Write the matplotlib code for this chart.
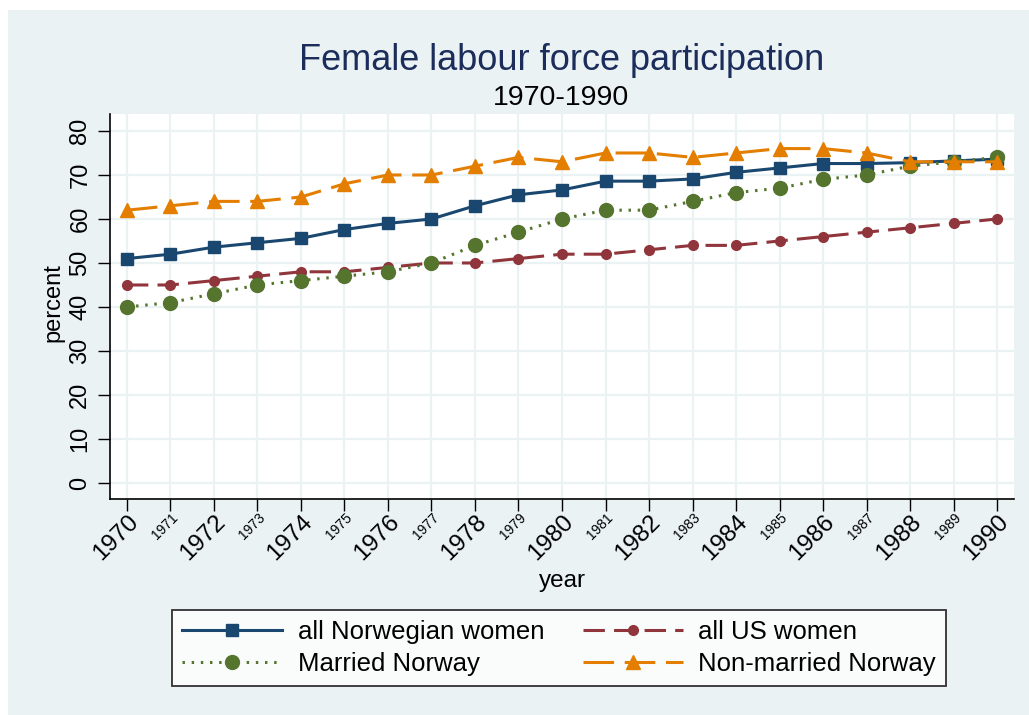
import matplotlib
matplotlib.use("Agg")
import matplotlib.pyplot as plt
from matplotlib.patches import Rectangle

# Data
years = list(range(1970, 1991))
all_norway = [51, 52, 53.6, 54.6, 55.6, 57.6, 59, 60, 63, 65.5, 66.6,
              68.6, 68.6, 69.1, 70.6, 71.6, 72.6, 72.6, 72.8, 73.2, 73.6]
all_us = [45, 45, 46, 47, 48, 48, 49, 50, 50, 51, 52,
          52, 53, 54, 54, 55, 56, 57, 58, 59, 60]
married_norway = [40, 41, 43, 45, 46, 47, 48, 50, 54, 57, 60,
                  62, 62, 64, 66, 67, 69, 70, 72, 73, 74]
nonmarried_norway = [62, 63, 64, 64, 65, 68, 70, 70, 72, 74, 73,
                     75, 75, 74, 75, 76, 76, 75, 73, 73, 73]
y_ticks = [0, 10, 20, 30, 40, 50, 60, 70, 80]

BG = "#EAF2F3"
NAVY = "#1A476F"
MAROON = "#90353B"
GREEN = "#55752F"
ORANGE = "#E37E00"

plt.rcParams["font.family"] = ["Liberation Sans", "DejaVu Sans"]

W, H = 1029, 715
fig = plt.figure(figsize=(W / 100, H / 100), dpi=100, facecolor="white")
fig.patches.append(Rectangle((8 / W, 0), 1 - 8 / W, 1 - 10 / H,
                             transform=fig.transFigure, facecolor=BG,
                             edgecolor="none", zorder=-10))

ax = fig.add_axes([110 / W, 1 - 499 / H, 904 / W, 385 / H])
ax.set_facecolor("white")

l1, = ax.plot(years, all_norway, color=NAVY, lw=2.2, marker="s", ms=8.5,
              label="all Norwegian women", zorder=3)
l2, = ax.plot(years, all_us, color=MAROON, lw=2.2, marker="o", ms=7,
              dashes=(7, 3), label="all US women", zorder=3)
l3, = ax.plot(years, married_norway, color=GREEN, lw=2.2, marker="o", ms=10,
              linestyle=(0, (0.8, 2.2)), label="Married Norway", zorder=3)
l4, = ax.plot(years, nonmarried_norway, color=ORANGE, lw=2.2, marker="^", ms=10,
              dashes=(10, 3.5), label="Non-married Norway", zorder=3)

ax.set_xlim(1969.61, 1990.39)
ax.set_ylim(-3.64, 83.86)
ax.set_xticks(years)
ax.set_xticklabels([str(y) for y in years])
ax.set_yticks(y_ticks)
ax.grid(True, color=BG, lw=1.6, zorder=0)
ax.set_axisbelow(True)

for s in ["top", "right"]:
    ax.spines[s].set_visible(False)
for s in ["left", "bottom"]:
    ax.spines[s].set_color("black")
    ax.spines[s].set_linewidth(1.2)

ax.tick_params(axis="both", length=8.5, width=1, color="black", direction="out")
ax.tick_params(axis="y", labelsize=17, pad=5)
for lab in ax.get_yticklabels():
    lab.set_rotation(90)
    lab.set_va("center")
ax.tick_params(axis="x", pad=0)
for y, lab in zip(years, ax.get_xticklabels()):
    lab.set_rotation(45)
    lab.set_rotation_mode("anchor")
    lab.set_ha("right")
    lab.set_va("top")
    lab.set_fontsize(17.5 if y % 2 == 0 else 10)

fig.text(562 / W, 1 - 70 / H, "Female labour force participation",
         fontsize=26, color="#1C2D5B", ha="center", va="baseline")
fig.text(561 / W, 1 - 105 / H, "1970-1990", fontsize=20.5,
         color="black", ha="center", va="baseline")
fig.text(53 / W, 1 - 303 / H, "percent", fontsize=17, rotation=90,
         ha="center", va="center")
fig.text(562 / W, 1 - 581 / H, "year", fontsize=17.5, ha="center", va="center")

leg = fig.legend([l1, l3, l2, l4],
                 [l.get_label() for l in (l1, l3, l2, l4)],
                 loc="center", bbox_to_anchor=(559 / W, 1 - 648 / H), ncol=2,
                 fontsize=18.5, frameon=True, fancybox=False,
                 handlelength=3.9, handletextpad=0.6, columnspacing=1.5,
                 labelspacing=0.3, borderpad=0.4)
leg.get_frame().set_edgecolor("black")
leg.get_frame().set_linewidth(1.3)
leg.get_frame().set_facecolor("white")

fig.savefig("out.png", dpi=100, facecolor=fig.get_facecolor())
